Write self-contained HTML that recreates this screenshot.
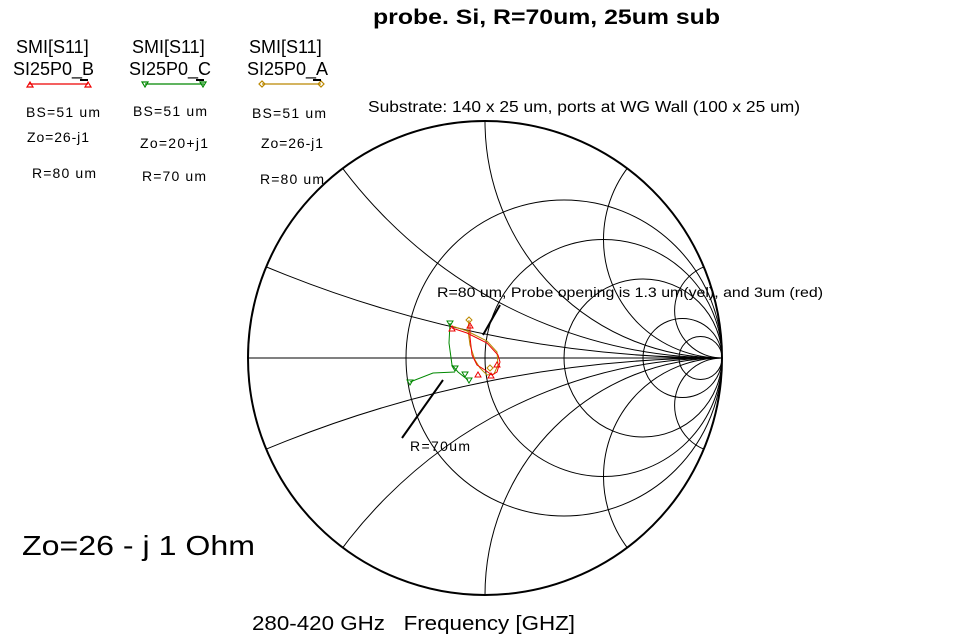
<!DOCTYPE html>
<html><head><meta charset="utf-8"><style>
html,body{margin:0;padding:0;background:#fff;overflow:hidden;}
svg{display:block;font-family:"Liberation Sans",sans-serif;}
</style></head><body>
<svg width="971" height="636" viewBox="0 0 971 636" xmlns="http://www.w3.org/2000/svg">
<defs><clipPath id="c"><circle cx="485" cy="358" r="237"/></clipPath></defs>
<rect width="971" height="636" fill="#fff"/>
<text x="373" y="24" font-size="21" font-weight="bold" textLength="347" lengthAdjust="spacingAndGlyphs">probe. Si, R=70um, 25um sub</text>
<g font-size="18">
<text x="16" y="53">SMI[S11]</text><text x="13" y="75">SI25P0_B</text>
<text x="132" y="53">SMI[S11]</text><text x="129" y="75">SI25P0_C</text>
<text x="249" y="53">SMI[S11]</text><text x="247" y="75">SI25P0_A</text>
</g>
<g stroke-width="1.2" fill="none">
<line x1="29" y1="84" x2="88" y2="84" stroke="#e00"/>
<path d="M27 87 L30 82 L33 87Z M85 87 L88 82 L91 87Z" stroke="#e00"/>
<line x1="145" y1="84" x2="204" y2="84" stroke="#080"/>
<path d="M142 82 L145 87 L148 82Z M200 82 L203 87 L206 82Z" stroke="#080"/>
<line x1="262" y1="84" x2="321" y2="84" stroke="#b80"/>
<path d="M259 84 L262 81 L265 84 L262 87Z M318 84 L321 81 L324 84 L321 87Z" stroke="#b80"/>
<line x1="80" y1="80" x2="88" y2="80" stroke="#000" stroke-width="2"/>
<line x1="196" y1="80" x2="204" y2="80" stroke="#000" stroke-width="2"/>
<line x1="313" y1="80" x2="321" y2="80" stroke="#000" stroke-width="2"/>
</g>
<g font-size="14">
<text x="26" y="117" textLength="74">BS=51 um</text><text x="27" y="142" textLength="62">Zo=26-j1</text><text x="32" y="178" textLength="64">R=80 um</text>
<text x="133" y="116" textLength="74">BS=51 um</text><text x="140" y="148" textLength="68">Zo=20+j1</text><text x="142" y="181" textLength="64">R=70 um</text>
<text x="252" y="118" textLength="74">BS=51 um</text><text x="261" y="148" textLength="62">Zo=26-j1</text><text x="260" y="184" textLength="64">R=80 um</text>
</g>
<text x="368" y="112" font-size="16" textLength="432" lengthAdjust="spacingAndGlyphs">Substrate: 140 x 25 um, ports at WG Wall (100 x 25 um)</text>
<g clip-path="url(#c)" fill="none" stroke="#000" stroke-width="1">
<circle cx="564" cy="358" r="158"/>
<circle cx="603.5" cy="358" r="118.5"/>
<circle cx="643" cy="358" r="79"/>
<circle cx="682.5" cy="358" r="39.5"/>
<circle cx="700.5" cy="358" r="21.5"/>
<circle cx="722" cy="-827" r="1185"/><circle cx="722" cy="1543" r="1185"/>
<circle cx="722" cy="-116" r="474"/><circle cx="722" cy="832" r="474"/>
<circle cx="722" cy="121" r="237"/><circle cx="722" cy="595" r="237"/>
<circle cx="722" cy="239.5" r="118.5"/><circle cx="722" cy="476.5" r="118.5"/>
<circle cx="722" cy="310.6" r="47.4"/><circle cx="722" cy="405.4" r="47.4"/>
<line x1="248" y1="358" x2="722" y2="358"/>
</g>
<circle cx="485" cy="358" r="237" fill="none" stroke="#000" stroke-width="2"/>
<text x="437" y="297" font-size="14" textLength="386" lengthAdjust="spacingAndGlyphs">R=80 um, Probe opening is 1.3 um(yel), and 3um (red)</text>
<line x1="483" y1="335" x2="500" y2="305" stroke="#000" stroke-width="2"/>
<line x1="402" y1="438" x2="443" y2="380" stroke="#000" stroke-width="2"/>
<text x="410" y="451" font-size="14" textLength="60">R=70um</text>
<polyline points="410,382 433,373 455,372" fill="none" stroke="#080" stroke-width="1"/>
<polyline points="450,323 449,343 452,365 458,372 468,380" fill="none" stroke="#080" stroke-width="1"/>
<polyline points="452,326 467,331 487,341 497,352 498,365 494,374 487,375 480,368 475,360 470,345 468,330 469,320" fill="none" stroke="#b80" stroke-width="1"/>
<polyline points="452,328 467,333 487,343 498,355 500,362 497,372 492,375 485,370 477,365 472,355 470,337 470,325" fill="none" stroke="#e00" stroke-width="1"/>
<g fill="none" stroke-width="1">
<path d="M447 321 L450 326 L453 321Z M407 380 L410 385 L413 380Z M452 366 L455 371 L458 366Z M462 372 L465 377 L468 372Z M466 378 L469 383 L472 378Z" stroke="#080"/>
<path d="M449 331 L452 326 L455 331Z M467 328 L470 323 L473 328Z M494 367 L497 362 L500 367Z M475 377 L478 372 L481 377Z M488 378 L491 373 L494 378Z" stroke="#e00"/>
<path d="M466 320 L469 317 L472 320 L469 323Z M487 368 L490 365 L493 368 L490 371Z" stroke="#b80"/>
</g>
<text x="22" y="555" font-size="28" textLength="233" lengthAdjust="spacingAndGlyphs">Zo=26 - j 1 Ohm</text>
<text x="252" y="630" font-size="20" textLength="323" lengthAdjust="spacingAndGlyphs">280-420 GHz&#160;&#160;&#160;Frequency [GHZ]</text>
</svg>
</body></html>
